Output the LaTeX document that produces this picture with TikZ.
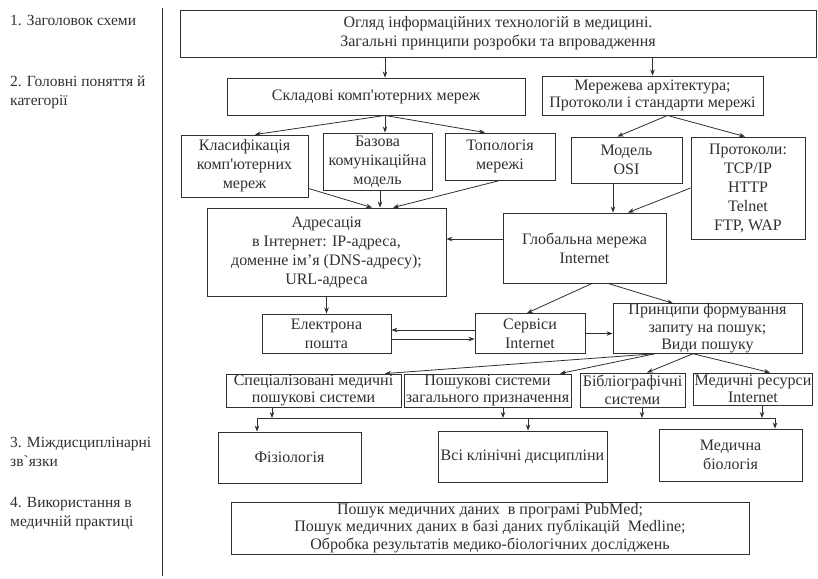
\documentclass[tikz,border=0pt]{standalone}
\usepackage{fontspec}
\setmainfont{Liberation Serif}
\usetikzlibrary{arrows.meta}
\definecolor{ink}{HTML}{303030}
\newcommand\mainsz{\fontsize{16}{19}\selectfont}
\newcommand\tightsz{\fontsize{16}{17.5}\selectfont}
\newcommand\lblsz{\fontsize{15.5}{19}\selectfont}
\begin{document}
\begin{tikzpicture}[x=1pt,y=-1pt,
  box/.style={draw=ink, line width=0.9pt, inner sep=0pt, align=center, text=ink, font=\mainsz},
  arr/.style={draw=ink, line width=0.8pt, -{Stealth[length=6pt,width=4.5pt]}},
  lbl/.style={anchor=west, align=left, inner sep=0pt, text=ink, font=\lblsz}]
\useasboundingbox[fill=white] (0,0) rectangle (818,578);

% left column labels
\node[lbl] (l1) at (10,20) {1. Заголовок схеми};
\node[lbl] (l2) at (10,92) {2. Головні поняття й\\категорії};
\node[lbl] (l3) at (10,452) {3. Міждисциплінарні\\зв\textasciigrave язки};
\node[lbl] (l4) at (10,514) {4. Використання в\\медичній практиці};
\coordinate (vtop) at (162,8);
\coordinate (vbot) at (162,576);
\draw[ink, line width=1pt] (vtop) -- (vbot);

% boxes
\node[box, minimum width=636, minimum height=47] (title) at (498,33.5)
  {Огляд інформаційних технологій в медицині.\\Загальні принципи розробки та впровадження};
\node[box, minimum width=298, minimum height=37] (skl) at (376,96.5) {Складові комп\textquotesingle ютерних мереж};
\node[box, minimum width=221, minimum height=39, font=\tightsz] (arch) at (652.5,95.5) {Мережева архітектура;\\Протоколи і стандарти мережі};
\node[box, minimum width=127, minimum height=62] (klas) at (244.5,166) {Класифікація\\комп\textquotesingle ютерних\\мереж};
\node[box, minimum width=109, minimum height=57] (baz) at (377.5,161.5) {Базова\\комунікаційна\\модель};
\node[box, minimum width=110, minimum height=47] (top) at (500,156.5) {Топологія\\мережі};
\node[box, minimum width=111, minimum height=46] (osi) at (626.5,160) {Модель\\OSI};
\node[box, minimum width=114, minimum height=102] (prot) at (748,188) {Протоколи:\\TCP/IP\\HTTP\\Telnet\\FTP, WAP};
\node[box, minimum width=239, minimum height=88] (adr) at (326.5,252)
  {Адресація\\в Інтернет: IP-адреса,\\доменне ім’я (DNS-адресу);\\URL-адреса};
\node[box, minimum width=163, minimum height=70] (glob) at (584.5,248) {Глобальна мережа\\Internet};
\node[box, minimum width=129, minimum height=39] (email) at (326.5,333.5) {Електрона\\пошта};
\node[box, minimum width=110, minimum height=40] (serv) at (530,333.5) {Сервіси\\Internet};
\node[box, minimum width=189, minimum height=49, font=\tightsz] (princ) at (707.5,328.5) {Принципи формування\\запиту на пошук;\\Види пошуку};
\node[box, minimum width=175, minimum height=33, font=\tightsz] (spec) at (313.5,390.5) {Спеціалізовані медичні\\пошукові системи};
\node[box, minimum width=167, minimum height=33, font=\tightsz] (posh) at (487.5,390.5) {Пошукові системи\\загального призначення};
\node[box, minimum width=105, minimum height=34, font=\tightsz] (bib) at (632.5,390) {Бібліографічні\\системи};
\node[box, minimum width=119, minimum height=32, font=\tightsz] (med) at (753,389) {Медичні ресурси\\Internet};
\node[box, minimum width=143, minimum height=51] (fiz) at (289.5,457.5) {Фізіологія};
\node[box, minimum width=169, minimum height=51] (vsi) at (522.5,456.5) {Всі клінічні дисципліни};
\node[box, minimum width=143, minimum height=52] (medbio) at (730.5,455) {Медична\\біологія};
\node[box, minimum width=518, minimum height=52, font=\tightsz] (bot) at (490,528)
  {Пошук медичних даних\ \ в програмі PubMed;\\Пошук медичних даних в базі даних публікацій\ \ Medline;\\Обробка результатів медико-біологічних досліджень};

% connectors
\draw[arr] ([xshift=9pt]skl.north |- title.south) -- ([xshift=9pt]skl.north);
\draw[arr] (arch.north |- title.south) -- (arch.north);
\draw[arr] ([xshift=9pt]skl.south) -- ([xshift=10.5pt]klas.north);
\draw[arr] ([xshift=9pt]skl.south) -- ([xshift=9pt]skl.south |- baz.north);
\draw[arr] ([xshift=9pt]skl.south) -- ([xshift=-15pt]top.north);
\draw[arr] ([xshift=15pt]arch.south) -- ([xshift=-9pt]osi.north);
\draw[arr] ([xshift=15pt]arch.south) -- ([xshift=-3pt]prot.north);
\draw[arr] ([yshift=9pt]klas.south east) -- ([xshift=45.5pt]adr.north);
\draw[arr] ([xshift=2.5pt]baz.south) -- ([xshift=2.5pt]baz.south |- adr.north);
\draw[arr] (top.south) -- ([xshift=66.5pt]adr.north);
\draw[arr] ([xshift=-13.5pt]osi.south) -- ([xshift=-13.5pt]osi.south |- glob.north);
\draw[arr] (prot.west) -- ([xshift=43.5pt]glob.north);
\draw[arr] ([yshift=9pt]glob.west) -- ([yshift=9pt]glob.west -| adr.east);
\draw[arr] (adr.south) -- (email.north);
\draw[arr] ([yshift=3.5pt]serv.west) -- ([yshift=3.5pt]serv.west -| email.east);
\draw[arr] ([yshift=-5.5pt]email.east) -- ([yshift=-5.5pt]email.east -| serv.west);
\draw[arr] ([xshift=7.5pt]glob.south) -- ([xshift=-3pt]serv.north);
\draw[arr] ([xshift=23.5pt]glob.south) -- ([xshift=-34.5pt]princ.north);
\draw[arr] (serv.east) -- (serv.east -| princ.west);
\draw[arr] ([xshift=-52.5pt]princ.south) -- ([xshift=71.5pt]spec.north);
\draw[arr] ([xshift=-52.5pt]princ.south) -- ([xshift=72.5pt]posh.north);
\draw[arr] ([xshift=-14.5pt]princ.south) -- ([xshift=14.5pt]bib.north);
\draw[arr] ([xshift=-14.5pt]princ.south) -- ([xshift=17pt]med.north);

% bus to the disciplines
\coordinate (busL) at (257,418);
\coordinate (busR) at (775,418);
\draw[ink, line width=0.8pt] (busL) -- (busR);
\draw[arr] ([xshift=-41.5pt]spec.south) -- ([xshift=-41.5pt]spec.south |- busL);
\draw[arr] ([xshift=15.5pt]posh.south) -- ([xshift=15.5pt]posh.south |- busL);
\draw[arr] ([xshift=9.5pt]bib.south) -- ([xshift=9.5pt]bib.south |- busL);
\draw[arr] ([xshift=9pt]med.south) -- ([xshift=9pt]med.south |- busL);
\draw[arr] (busL) -- (busL |- fiz.north);
\draw[arr] ([xshift=5.5pt]vsi.north |- busL) -- ([xshift=5.5pt]vsi.north);
\draw[arr] (busR) -- (busR |- medbio.north);
\end{tikzpicture}
\end{document}
